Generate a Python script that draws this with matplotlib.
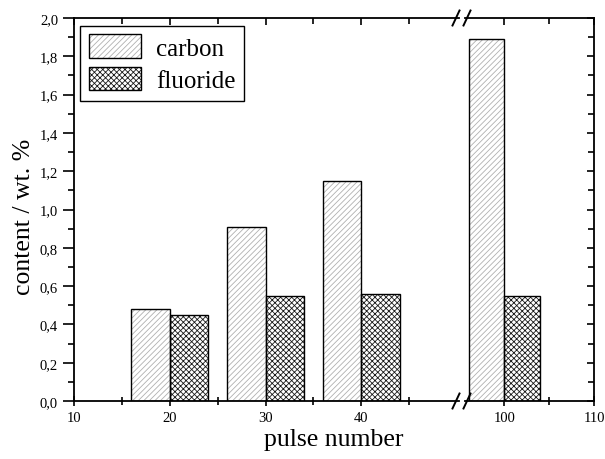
import matplotlib
matplotlib.use('Agg')
import matplotlib.pyplot as plt
from matplotlib.patches import Patch
from matplotlib.legend_handler import HandlerTuple
from matplotlib.ticker import MultipleLocator, FixedLocator, FuncFormatter

plt.rcParams['font.family'] = ['Liberation Serif', 'DejaVu Serif']
plt.rcParams['hatch.linewidth'] = 0.6

pulses = [20, 30, 40, 100]
carbon = [0.48, 0.91, 1.15, 1.89]
fluoride = [0.45, 0.55, 0.56, 0.55]
bar_w = 4

fig = plt.figure(figsize=(6.05, 4.6), dpi=100)
W, H = 605, 460
bottom, top = 1 - 402 / H, 1 - 19 / H
ax1 = fig.add_axes([74 / W, bottom, (459 - 74) / W, top - bottom])
ax2 = fig.add_axes([465 / W, bottom, (594 - 465) / W, top - bottom], sharey=ax1)

c_hatch = '#b0b0b0'
f_hatch = '#1a1a1a'
c_pat = '//////'
f_pat = 'xxxxxx'


def draw_bars(ax):
    xs_c = [p - bar_w / 2 for p in pulses]
    xs_f = [p + bar_w / 2 for p in pulses]
    ax.bar(xs_c, carbon, bar_w, color='white', edgecolor=c_hatch,
           hatch=c_pat, linewidth=0, zorder=2)
    ax.bar(xs_c, carbon, bar_w, fill=False, edgecolor='black',
           linewidth=1.0, zorder=3)
    ax.bar(xs_f, fluoride, bar_w, color='white', edgecolor=f_hatch,
           hatch=f_pat, linewidth=0, zorder=2)
    ax.bar(xs_f, fluoride, bar_w, fill=False, edgecolor='black',
           linewidth=1.0, zorder=3)


draw_bars(ax1)
draw_bars(ax2)

ax1.set_xlim(10, 50.2)
ax2.set_xlim(95.6, 110)
ax1.set_ylim(0, 2.0)

fmt = FuncFormatter(lambda v, pos: f'{v:.1f}'.replace('.', ','))
ax1.yaxis.set_major_locator(MultipleLocator(0.2))
ax1.yaxis.set_minor_locator(MultipleLocator(0.1))
ax1.yaxis.set_major_formatter(fmt)

ax1.xaxis.set_major_locator(FixedLocator([10, 20, 30, 40]))
ax1.xaxis.set_minor_locator(FixedLocator([15, 25, 35, 45]))
ax2.xaxis.set_major_locator(FixedLocator([100, 110]))
ax2.xaxis.set_minor_locator(FixedLocator([105]))

for ax in (ax1, ax2):
    for s in ax.spines.values():
        s.set_linewidth(1.3)
    ax.tick_params(axis='x', which='both', direction='inout',
                   labelsize=10.5, width=1.2, pad=4)
    ax.tick_params(axis='x', which='major', length=7)
    ax.tick_params(axis='x', which='minor', length=6)
    # top ticks point inward
    sec = ax.secondary_xaxis('top')
    sec.set_xticks(ax.get_xticks())
    sec.xaxis.set_minor_locator(ax.xaxis.get_minor_locator())
    sec.tick_params(which='both', direction='in', labeltop=False, width=1.2)
    sec.tick_params(which='major', length=5)
    sec.tick_params(which='minor', length=4)
    sec.spines['top'].set_visible(False)

ax1.spines['right'].set_visible(False)
ax2.spines['left'].set_visible(False)

ax1.tick_params(axis='y', which='both', direction='out', labelsize=10.5,
                width=1.2, right=False)
ax1.tick_params(axis='y', which='major', length=8)
ax1.tick_params(axis='y', which='minor', length=4)

ax2.tick_params(axis='y', which='both', left=False, labelleft=False,
                right=True, direction='in', width=1.2)
ax2.tick_params(axis='y', which='major', length=5)
ax2.tick_params(axis='y', which='minor', length=4)

# break marks
dx, dy = 3.5 / W, 7.5 / H
for xx in (456 / W, 467 / W):
    for yy in (bottom, top):
        fig.add_artist(plt.Line2D([xx - dx, xx + dx], [yy - dy, yy + dy],
                                  color='black', lw=1.4))

ax1.set_ylabel('content / wt. %', fontsize=18.5)
ax1.yaxis.set_label_coords(-0.1, 0.483)
fig.text((74 + 594) / 2 / W, 1 - 440 / H, 'pulse number', fontsize=18.5,
         ha='center', va='center')

h_c = (Patch(facecolor='white', edgecolor=c_hatch, hatch=c_pat, linewidth=0),
       Patch(fill=False, edgecolor='black', linewidth=1.0))
h_f = (Patch(facecolor='white', edgecolor=f_hatch, hatch=f_pat, linewidth=0),
       Patch(fill=False, edgecolor='black', linewidth=1.0))
leg = ax1.legend([h_c, h_f], ['carbon', 'fluoride'],
                 handler_map={tuple: HandlerTuple(ndivide=1, pad=0)},
                 loc='upper left', bbox_to_anchor=(0.015, 0.98), fontsize=18,
                 fancybox=False, edgecolor='black', framealpha=1,
                 handlelength=2.1, handleheight=1.05, labelspacing=0.3,
                 borderpad=0.35, handletextpad=0.6, borderaxespad=0)
leg.get_frame().set_linewidth(1.0)

fig.savefig('out.png', dpi=100)
